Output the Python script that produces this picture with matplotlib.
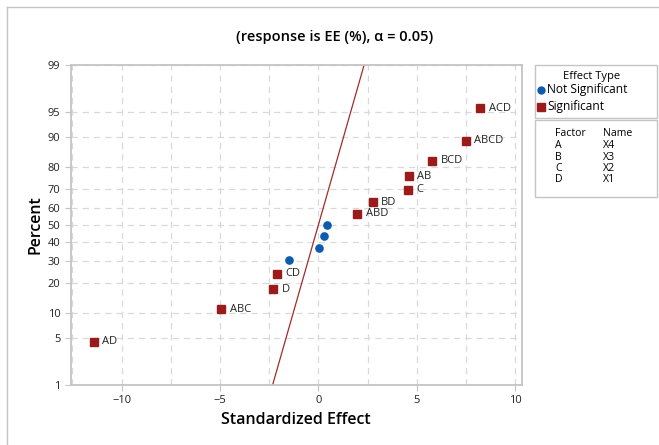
from statistics import NormalDist
import matplotlib
matplotlib.use('Agg')
import matplotlib.pyplot as plt
from matplotlib.patches import Rectangle
from matplotlib.lines import Line2D
from matplotlib.ticker import MultipleLocator

plt.rcParams['font.family'] = ['Open Sans', 'DejaVu Sans']

# effects in order of size
terms = ['AD', 'ABC', 'D', 'CD', 'n1', 'n2', 'n3', 'n4',
         'ABD', 'BD', 'C', 'AB', 'BCD', 'ABCD', 'ACD']
effects = [-11.40, -4.93, -2.29, -2.12, -1.50, 0.01, 0.29, 0.43,
           1.98, 2.76, 4.55, 4.60, 5.80, 7.49, 8.24]
percents = [4.5, 11.0, 17.5, 24.0, 30.5, 37.0, 43.5, 50.0,
            56.5, 63.0, 69.5, 76.0, 82.5, 89.0, 95.5]
significant = [True, True, True, True, False, False, False, False,
               True, True, True, True, True, True, True]

ytick_pct = [1, 5, 10, 20, 30, 40, 50, 60, 70, 80, 90, 95, 99]
factors = ['A', 'B', 'C', 'D']
names = ['X4', 'X3', 'X2', 'X1']

RED = '#9b1b1b'
BLUE = '#0b5cad'
GRID = '#d9d9d9'
FRAME = '#c4c4c4'

nd = NormalDist()
z = lambda p: nd.inv_cdf(p / 100.0)

fig = plt.figure(figsize=(6.59, 4.45), dpi=100)
ax = fig.add_axes([0.1073, 0.1348, 0.6844, 0.7191])

# reference line (standard normal)
zl = [z(1), z(99)]
ax.plot(zl, zl, '-', color='#a52a2a', lw=0.9, zorder=2)

for t, e, p, s in zip(terms, effects, percents, significant):
    if s:
        ax.plot(e, z(p), 's', color=RED, ms=6, zorder=3)
        ax.annotate(t, (e, z(p)), xytext=(6, 0), textcoords='offset points',
                    va='center', ha='left', fontsize=8, color='#222222')
    else:
        ax.plot(e, z(p), 'o', color=BLUE, ms=5.2, zorder=3)

ax.set_xlim(-12.59, 10.34)
ax.set_ylim(z(1), z(99))
ax.xaxis.set_major_locator(MultipleLocator(5))
ax.xaxis.set_minor_locator(MultipleLocator(2.5))
ax.set_yticks([z(p) for p in ytick_pct])
ax.set_yticklabels([str(p) for p in ytick_pct])
ax.tick_params(labelsize=8, length=4, color=FRAME, colors='#222222')
ax.tick_params(axis='x', which='minor', length=0)
ax.grid(True, which='both', linestyle=(0, (5, 4)), color=GRID, lw=0.9)
ax.set_axisbelow(True)
for sp in ax.spines.values():
    sp.set_color(FRAME)
    sp.set_linewidth(1.3)

ax.set_xlabel('Standardized Effect', fontsize=11.5, fontweight='semibold', labelpad=4)
ax.set_ylabel('Percent', fontsize=11.5, fontweight='semibold', labelpad=3)
fig.text(0.508, 0.917, '(response is EE (%), \u03b1 = 0.05)', ha='center', va='center',
         fontsize=10.5, fontweight='semibold')

# outer frame lines (top and left)
fig.add_artist(Line2D([7 / 659, 1], [1 - 7 / 445] * 2, color=FRAME, lw=1))
fig.add_artist(Line2D([7 / 659] * 2, [0, 1 - 7 / 445], color=FRAME, lw=1))

# legend boxes
W, H = 659.0, 445.0
def box(x0, y0, x1, y1):
    fig.add_artist(Rectangle((x0 / W, 1 - y1 / H), (x1 - x0) / W, (y1 - y0) / H,
                             fill=False, edgecolor=FRAME, lw=1))

box(535, 65, 656.5, 117.5)
box(535, 120.5, 656.5, 197)
fs = 8
fig.text(563 / W, 1 - 76.5 / H, 'Effect Type', fontsize=fs, va='center')
fig.add_artist(Line2D([540.7 / W], [1 - 89.5 / H], marker='o', ms=5, color=BLUE))
fig.text(547 / W, 1 - 89.5 / H, 'Not Significant', fontsize=8.6, va='center')
fig.add_artist(Line2D([540.7 / W], [1 - 106.5 / H], marker='s', ms=5.5, color=RED))
fig.text(547 / W, 1 - 106.5 / H, 'Significant', fontsize=8.6, va='center')

fig.text(555 / W, 1 - 134 / H, 'Factor', fontsize=7.6, va='center')
fig.text(603 / W, 1 - 134 / H, 'Name', fontsize=7.6, va='center')
for i, (f, n) in enumerate(zip(factors, names)):
    yy = 1 - (146 + i * 11.3) / H
    fig.text(555 / W, yy, f, fontsize=7.6, va='center')
    fig.text(603 / W, yy, n, fontsize=7.6, va='center')

fig.savefig('out.png', dpi=100)
